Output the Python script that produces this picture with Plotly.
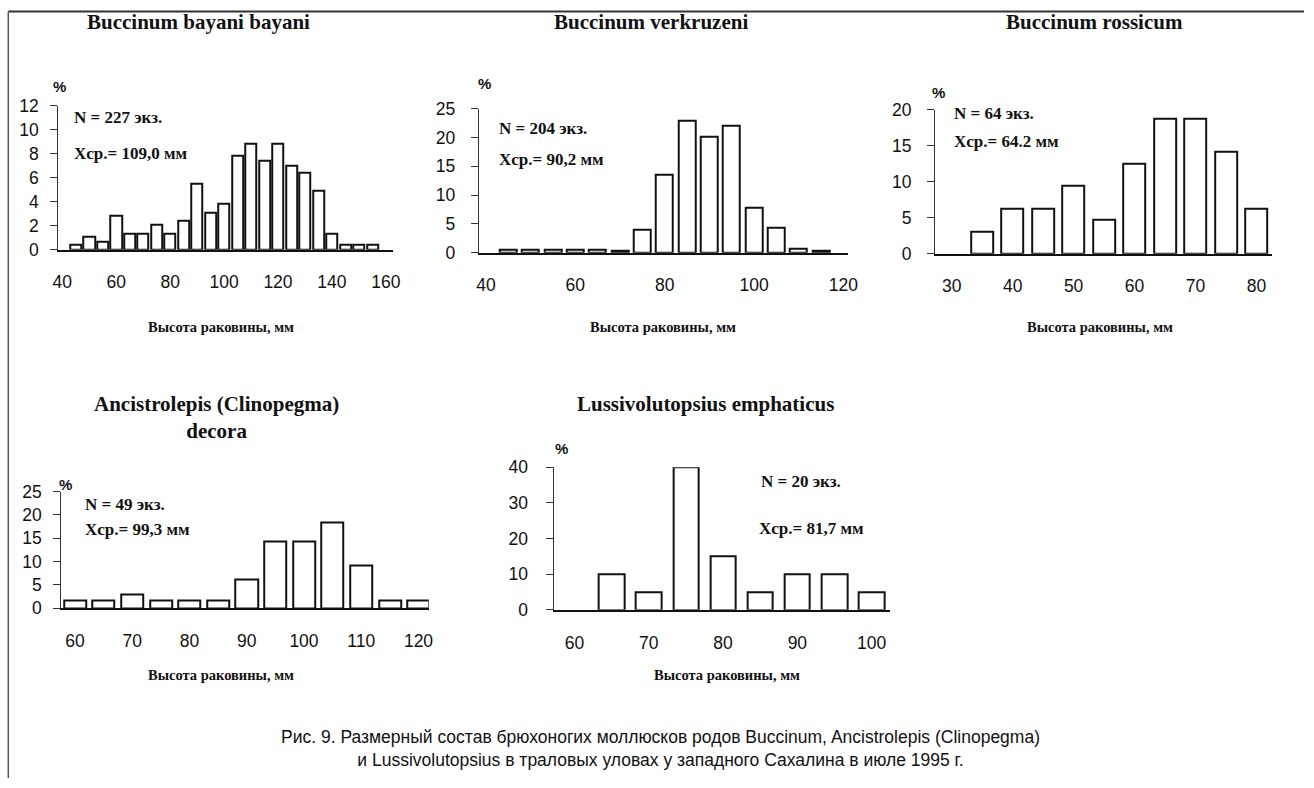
import plotly.graph_objects as go

W, H = 1314, 788

# ---------------- data ----------------
p1_x = [45, 50, 55, 60, 65, 70, 75, 80, 85, 90, 95, 100, 105, 110, 115, 120, 125, 130, 135, 140, 145, 150, 155]
p1_y = [0.4, 1.1, 0.7, 2.8, 1.3, 1.3, 2.1, 1.3, 2.4, 5.5, 3.1, 3.8, 7.8, 8.8, 7.4, 8.8, 7.0, 6.4, 4.9, 1.3, 0.4, 0.4, 0.4]

p2_x = [45, 50, 55, 60, 65, 70, 75, 80, 85, 90, 95, 100, 105, 110, 115]
p2_y = [0.5, 0.5, 0.5, 0.5, 0.5, 0.3, 3.9, 13.5, 23.0, 20.1, 22.1, 7.8, 4.4, 0.6, 0.3]

p3_x = [35, 40, 45, 50, 55, 60, 65, 70, 75, 80]
p3_y = [3.1, 6.25, 6.25, 9.4, 4.7, 12.5, 18.75, 18.75, 14.1, 6.25]

p4_x = [60, 65, 70, 75, 80, 85, 90, 95, 100, 105, 110, 115, 120]
p4_y = [1.7, 1.6, 3.0, 1.6, 1.6, 1.6, 6.1, 14.3, 14.3, 18.4, 9.2, 1.6, 1.6]

p5_x = [65, 70, 75, 80, 85, 90, 95, 100]
p5_y = [10, 5, 40, 15, 5, 10, 10, 5]

titles = ["Buccinum bayani bayani", "Buccinum verkruzeni", "Buccinum rossicum",
          "Ancistrolepis (Clinopegma)<br>decora", "Lussivolutopsius emphaticus"]
n_labels = ["N = 227 экз.", "N = 204 экз.", "N = 64 экз.", "N = 49 экз.", "N = 20 экз."]
mean_labels = ["Xср.= 109,0 мм", "Xср.= 90,2 мм", "Xср.= 64.2 мм", "Xср.= 99,3 мм", "Xср.= 81,7 мм"]
x_title = "Высота раковины, мм"
caption = ("Рис. 9. Размерный состав брюхоногих моллюсков родов Buccinum, Ancistrolepis (Clinopegma)<br>"
           "и Lussivolutopsius в траловых уловах у западного Сахалина в июле 1995 г.")

x_ticks = [[40, 60, 80, 100, 120, 140, 160], [40, 60, 80, 100, 120], [30, 40, 50, 60, 70, 80],
           [60, 70, 80, 90, 100, 110, 120], [60, 70, 80, 90, 100]]
y_ticks = [[0, 2, 4, 6, 8, 10, 12], [0, 5, 10, 15, 20, 25], [0, 5, 10, 15, 20],
           [0, 5, 10, 15, 20, 25], [0, 10, 20, 30, 40]]

# ---------------- layout (pixels, with a small calibration of the page placement) ----------------
AX, BX = 4.7, 0.989
AY, BY = 8.2, 0.975

def px(x):
    return ((x - AX) / BX) / W

def py(y):
    return 1 - ((y - AY) / BY) / H

panels = [
    dict(x=p1_x, y=p1_y, dom=(57, 392, 104, 248), xr=(38.5, 162.6), yr=(0, 12), bw=4.1, ysoff=8),
    dict(x=p2_x, y=p2_y, dom=(478, 848, 107, 251), xr=(38.4, 121.1), yr=(0, 25), bw=3.8, ysoff=12),
    dict(x=p3_x, y=p3_y, dom=(935, 1272, 108, 252), xr=(27.3, 82.5), yr=(0, 20), bw=3.6, ysoff=12),
    dict(x=p4_x, y=p4_y, dom=(60, 428, 490, 606.7), xr=(57.6, 121.8), yr=(0, 25), bw=3.85, ysoff=8),
    dict(x=p5_x, y=p5_y, dom=(553, 890, 465.7, 608.3), xr=(57.2, 102.5), yr=(0, 40), bw=3.4, ysoff=14),
]

title_pos = [(197, 20), (650, 20), (1094, 20), (215, 416), (705, 402)]
pct_pos = [(50, 85), (475, 82), (930, 91), (56, 483), (552, 447)]
n_pos = [(71, 116), (496, 127), (952, 112), (82, 503), (759, 480)]
m_pos = [(71, 152), (496, 158), (952, 140), (82, 528), (757, 527)]
xt_pos = [(220, 325), (662, 325), (1100, 325), (220, 673), (727, 673)]

fig = go.Figure()
layout = dict(width=W, height=H, margin=dict(l=0, r=0, t=0, b=0),
              paper_bgcolor="white", plot_bgcolor="white", showlegend=False,
              bargap=0)

tick_font = dict(family="Liberation Sans, Arial", size=17.5, color="#111")
serif_b = "Liberation Serif, Times New Roman"
ann = []
for i, p in enumerate(panels):
    k = "" if i == 0 else str(i + 1)
    x0, x1, ytop, ybot = p["dom"]
    fig.add_trace(go.Bar(
        x=p["x"], y=p["y"], width=p["bw"],
        marker=dict(color="white", line=dict(color="#111", width=2)),
        xaxis="x" + k, yaxis="y" + k, hoverinfo="x+y"))
    layout["xaxis" + k] = dict(
        domain=[px(x0), px(x1)], range=list(p["xr"]), anchor="y" + k,
        tickvals=x_ticks[i], ticks="", showline=True, linecolor="#111", linewidth=1.5,
        showgrid=False, zeroline=False, tickfont=tick_font, ticklabelstandoff=16)
    layout["yaxis" + k] = dict(
        domain=[py(ybot), py(ytop)], range=list(p["yr"]), anchor="x" + k,
        tickvals=y_ticks[i], ticks="outside", ticklen=7, tickcolor="#333", tickwidth=1.2,
        showline=True, linecolor="#333", linewidth=1.2,
        showgrid=False, zeroline=False, tickfont=tick_font, ticklabelstandoff=p["ysoff"])

    tx, ty = title_pos[i]
    ann.append(dict(x=px(tx), y=py(ty), xref="paper", yref="paper", text="<b>%s</b>" % titles[i],
                    showarrow=False, font=dict(family=serif_b, size=21, color="#111"),
                    xanchor="center", yanchor="middle"))
    ax, ay = pct_pos[i]
    ann.append(dict(x=px(ax), y=py(ay), xref="paper", yref="paper", text="<b>%</b>",
                    showarrow=False, font=dict(family="Liberation Sans, Arial", size=15, color="#111"),
                    xanchor="left", yanchor="middle"))
    nx, ny = n_pos[i]
    ann.append(dict(x=px(nx), y=py(ny), xref="paper", yref="paper", text="<b>%s</b>" % n_labels[i],
                    showarrow=False, font=dict(family=serif_b, size=17, color="#111"),
                    xanchor="left", yanchor="middle"))
    mx, my = m_pos[i]
    ann.append(dict(x=px(mx), y=py(my), xref="paper", yref="paper", text="<b>%s</b>" % mean_labels[i],
                    showarrow=False, font=dict(family=serif_b, size=17, color="#111"),
                    xanchor="left", yanchor="middle"))
    xx, xy = xt_pos[i]
    ann.append(dict(x=px(xx), y=py(xy), xref="paper", yref="paper", text="<b>%s</b>" % x_title,
                    showarrow=False, font=dict(family=serif_b, size=14.5, color="#111"),
                    xanchor="center", yanchor="middle"))

ann.append(dict(x=px(660), y=py(747), xref="paper", yref="paper", text=caption,
                showarrow=False, font=dict(family="Liberation Sans, Arial", size=17.5, color="#111"),
                xanchor="center", yanchor="middle", align="center"))

layout["annotations"] = ann
layout["shapes"] = [
    dict(type="line", xref="paper", yref="paper", x0=px(7), x1=1, y0=1 - 1.5 / H, y1=1 - 1.5 / H,
         line=dict(color="#333", width=2)),
    dict(type="line", xref="paper", yref="paper", x0=px(7), x1=px(7), y0=1 - 1.5 / H, y1=0,
         line=dict(color="#555", width=1.5)),
]
fig.update_layout(**layout)
fig.write_html("out.html", config={"displayModeBar": False},
               post_script="document.body.style.margin='0px';document.body.style.overflow='hidden';")
